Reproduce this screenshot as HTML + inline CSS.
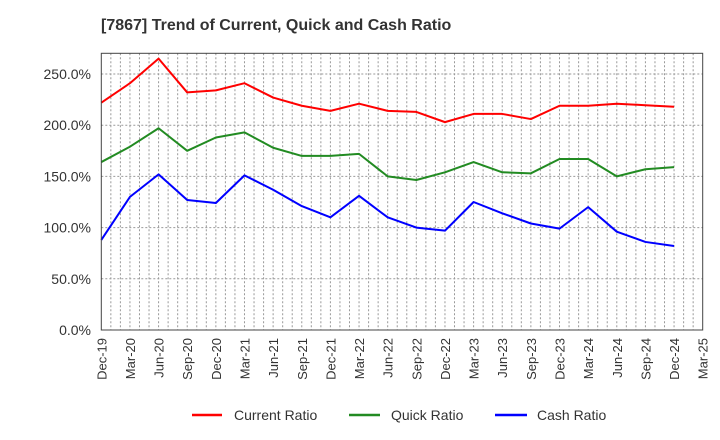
<!DOCTYPE html>
<html><head><meta charset="utf-8"><style>
html,body{margin:0;padding:0;background:#fff;}
svg{display:block;font-family:"Liberation Sans",Arial,sans-serif;}
</style></head><body>
<svg id="chart" width="720" height="440" viewBox="0 0 720 440">
<text x="101" y="30" font-size="16" font-weight="bold" fill="#333">[7867]  Trend of Current, Quick and Cash Ratio</text>
<g id="grid"></g>
<g id="series"></g>
<rect x="101.3" y="53.3" width="601.4" height="276.7" fill="none" stroke="#444" stroke-width="1"/>
<g id="yt"></g>
<g id="xt"></g>
<g>
<g><line x1="192" y1="415" x2="222" y2="415" stroke="#ff0000" stroke-width="2.5"/><text x="234" y="420" font-size="14" fill="#333">Current Ratio</text></g>
<g><line x1="349" y1="415" x2="380" y2="415" stroke="#228b22" stroke-width="2.5"/><text x="391" y="420" font-size="14" fill="#333">Quick Ratio</text></g>
<g><line x1="495" y1="415" x2="527" y2="415" stroke="#0000ff" stroke-width="2.5"/><text x="537" y="420" font-size="14" fill="#333">Cash Ratio</text></g>
</g>
</svg>
<script>
const quarters = ["Dec-19","Mar-20","Jun-20","Sep-20","Dec-20","Mar-21","Jun-21","Sep-21","Dec-21","Mar-22","Jun-22","Sep-22","Dec-22","Mar-23","Jun-23","Sep-23","Dec-23","Mar-24","Jun-24","Sep-24","Dec-24"];
const xTickLabels = ["Dec-19","Mar-20","Jun-20","Sep-20","Dec-20","Mar-21","Jun-21","Sep-21","Dec-21","Mar-22","Jun-22","Sep-22","Dec-22","Mar-23","Jun-23","Sep-23","Dec-23","Mar-24","Jun-24","Sep-24","Dec-24","Mar-25"];
const currentRatio = [222,241,265,232,234,241,227,219,214,221,214,213,203,211,211,206,219,219,221,219.5,218];
const quickRatio = [164,179,197,175,188,193,178,170,170,172,150,146.5,154,164,154,153,167,167,150,157,159];
const cashRatio = [88,130,152,127,124,151,137,121,110,131,110,100,97,125,114,104,99,120,96,86,82];
const yTicks = [0,50,100,150,200,250];

const NS="http://www.w3.org/2000/svg";
const L=101.3,R=702.7,T=53.3,B=330,months=63;
const xm=m=>L+(R-L)*m/months;
const xq=i=>xm(i*3);
const y=v=>B-v*(B-74)/250;
function mk(tag,attrs,parent){const e=document.createElementNS(NS,tag);for(const k in attrs)e.setAttribute(k,attrs[k]);parent.appendChild(e);return e;}
const grid=document.getElementById('grid');
for(let m=1;m<months;m++){
  const l=mk('line',{x1:xm(m),x2:xm(m),y1:T,y2:B,stroke:'#999','stroke-width':1,'stroke-dasharray':'2,2'},grid);
  
  
}
const yt=document.getElementById('yt');
yTicks.forEach(v=>{
  if(v>0){const l=mk('line',{x1:L,x2:R,y1:y(v),y2:y(v),stroke:'#999','stroke-width':1,'stroke-dasharray':'2,2'},grid);
  
  }
  const t=mk('text',{x:91,y:y(v)+5,'text-anchor':'end','font-size':14,fill:'#333'},yt);
  t.textContent=v.toFixed(1)+'%';
  
  
});
const xt=document.getElementById('xt');
xTickLabels.forEach((s,i)=>{
  const x=xq(i);
  const t=mk('text',{x:0,y:0,'text-anchor':'end','font-size':13,fill:'#333',transform:`translate(${x+5},338) rotate(-90)`},xt);
  t.textContent=s;
  
  
});
const sg=document.getElementById('series');
[[currentRatio,'#ff0000','current-ratio-line'],[quickRatio,'#228b22','quick-ratio-line'],[cashRatio,'#0000ff','cash-ratio-line']].forEach(([d,c,n])=>{
  const p=mk('polyline',{points:d.map((v,i)=>xq(i)+','+y(v)).join(' '),fill:'none',stroke:c,'stroke-width':2,'stroke-linejoin':'round'},sg);
  
  
});
</script>
</body></html>
